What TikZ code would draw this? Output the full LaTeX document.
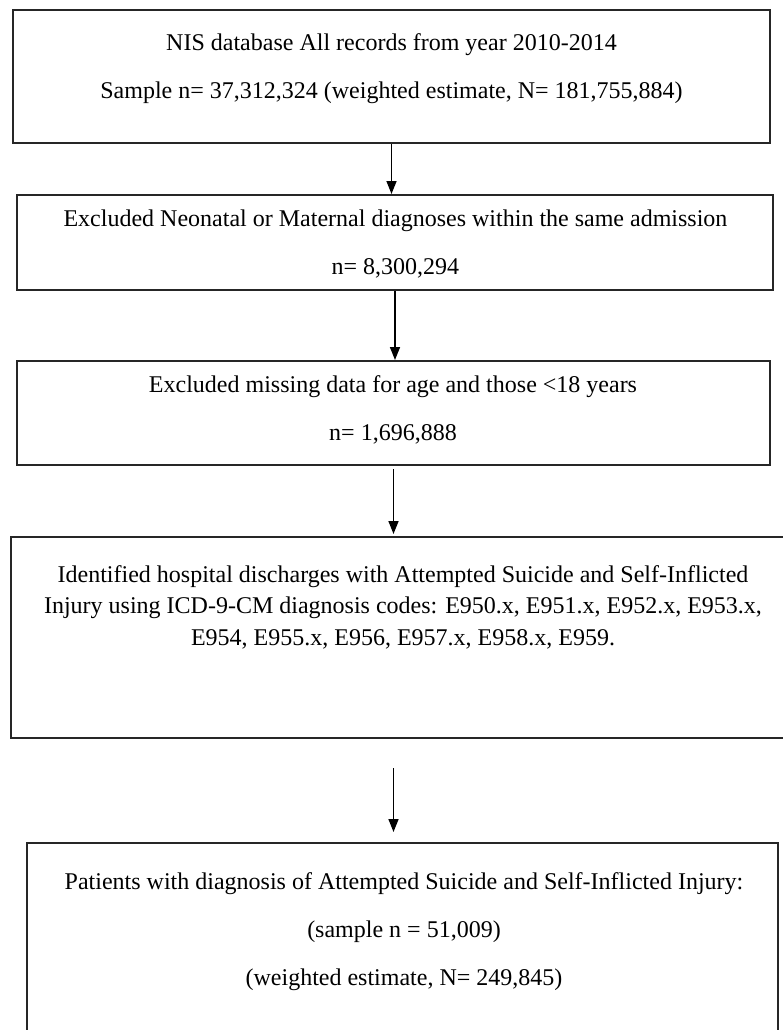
\documentclass[tikz,border=0pt]{standalone}
\usepackage{fontspec}
\setmainfont{Liberation Serif}
\usetikzlibrary{arrows.meta}
\tikzset{
  stage/.style={draw=black!85, line width=2pt, inner sep=0pt},
  txt/.style={inner sep=0pt, align=center, font=\fontsize{24}{48}\selectfont},
  arr/.style={line width=1.5pt, -{Triangle[width=10pt,length=13pt]}}
}
\begin{document}
\begin{tikzpicture}[x=1pt, y=-1pt]
  \useasboundingbox (0,0) rectangle (782,1030);
  % boxes
  \node[stage, minimum width=757pt, minimum height=133pt] (b1) at (391.5,76.5) {};
  \node[stage, minimum width=756pt, minimum height=95pt] (b2) at (395,242.5) {};
  \node[stage, minimum width=753pt, minimum height=104pt] (b3) at (393.5,413) {};
  \node[stage, minimum width=779pt, minimum height=201pt] (b4) at (400.5,637.5) {};
  \node[stage, minimum width=751pt, minimum height=197pt] (b5) at (402.5,941.5) {};
  % texts
  \node[txt] (t1) at (391.5,69) {NIS database All records from year 2010-2014\\
    Sample n= 37,312,324 (weighted estimate, N= 181,755,884)};
  \node[txt] (t2) at (395.5,244) {Excluded Neonatal or Maternal diagnoses within the same admission\\
    n= 8,300,294};
  \node[txt] (t3) at (393,409.5) {Excluded missing data for age and those <18 years\\
    n= 1,696,888};
  \node[txt, font=\fontsize{24}{31.5}\selectfont] (t4) at (403,607) {Identified hospital discharges with Attempted Suicide and Self-Inflicted\\
    Injury using ICD-9-CM diagnosis codes: E950.x, E951.x, E952.x, E953.x,\\
    E954, E955.x, E956, E957.x, E958.x, E959.};
  \node[txt] (t5) at (404,932) {Patients with diagnosis of Attempted Suicide and Self-Inflicted Injury:\\
    (sample n = 51,009)\\
    (weighted estimate, N= 249,845)};
  % arrows
  \draw[arr] (b1.south) -- (b1.south |- b2.north);
  \draw[arr] (b2.south) -- (b2.south |- b3.north);
  \draw[arr, shorten <=3pt, shorten >=2pt] (b3.south) -- (b3.south |- b4.north);
  \draw[arr, shorten <=29pt, shorten >=10pt] (b4.south -| b3.south) -- (b5.north -| b3.south);
\end{tikzpicture}
\end{document}
